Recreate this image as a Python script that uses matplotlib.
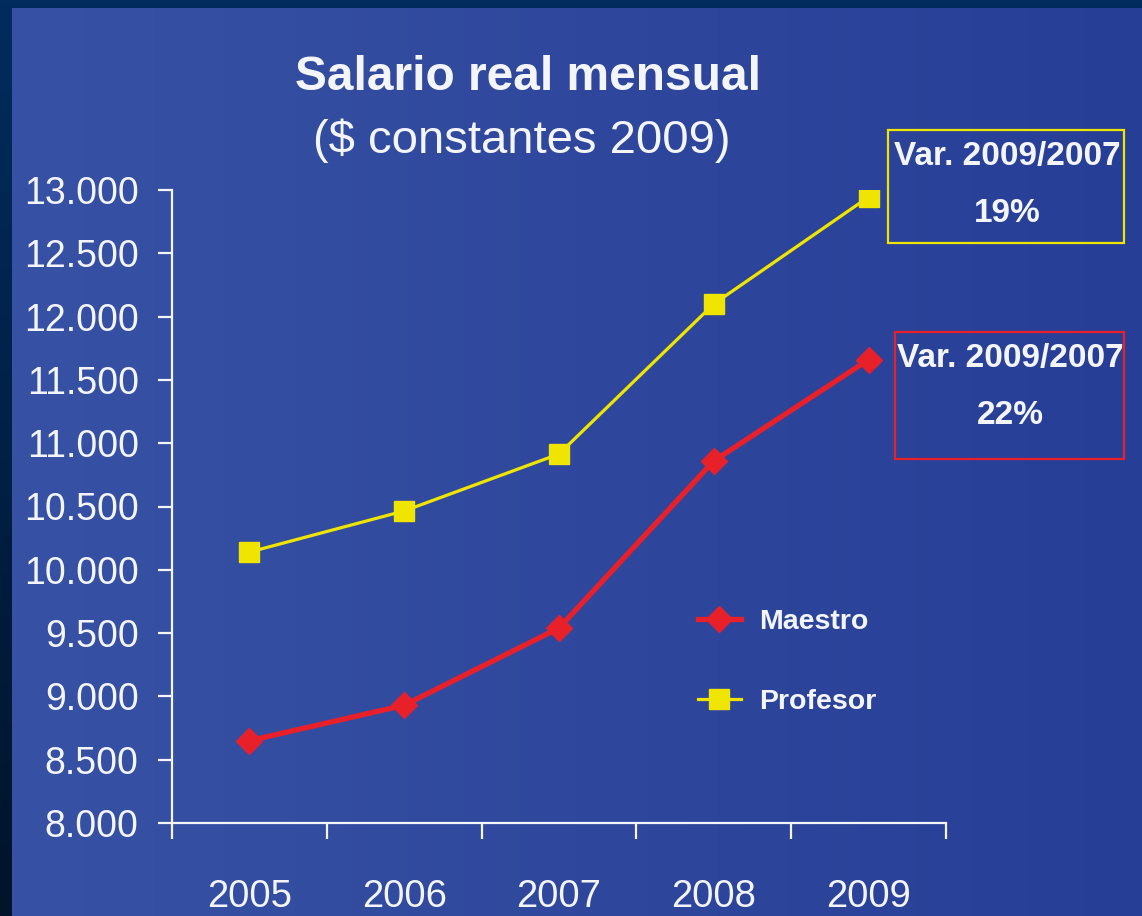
import numpy as np
import matplotlib
matplotlib.use("Agg")
import matplotlib.pyplot as plt
from matplotlib.lines import Line2D
from matplotlib.patches import Rectangle

# ---- data ----
years = ["2005", "2006", "2007", "2008", "2009"]
maestro = [8650, 8930, 9540, 10860, 11660]
profesor = [10140, 10465, 10915, 12100, 12945]
yticks = [8000, 8500, 9000, 9500, 10000, 10500, 11000, 11500, 12000, 12500, 13000]
series_names = ["Maestro", "Profesor"]
title = "Salario real mensual"
subtitle = "($ constantes 2009)"
box_labels = [("Var. 2009/2007", "19%"), ("Var. 2009/2007", "22%")]

W, H = 1142, 916
REG = ["Liberation Sans", "DejaVu Sans"]
WHITE = "#f4f5fb"
YELLOW = "#f0e500"
RED = "#e8202a"

fig = plt.figure(figsize=(W / 100, H / 100), dpi=100)
fig.patch.set_facecolor("#022c5e")

def fx(px):
    return px / W

def fy(py):
    return 1 - py / H

# background
bg = fig.add_axes([0, 0, 1, 1], zorder=0)
bg.axis("off")
vert = np.linspace(0, 1, 256).reshape(-1, 1)
c_top = np.array([2, 44, 94]) / 255
c_bot = np.array([0, 20, 42]) / 255
border = c_top + (c_bot - c_top) * vert[..., None]
border = np.repeat(border, 2, axis=1)
bg.imshow(border, extent=[0, W, H, 0], aspect="auto", interpolation="bilinear")
hor = np.linspace(0, 1, 512).reshape(1, -1)
c_l = np.array([55, 82, 164]) / 255
c_r = np.array([39, 62, 150]) / 255
inner = c_l + (c_r - c_l) * hor[..., None]
inner = np.repeat(inner, 2, axis=0)
bg.imshow(inner, extent=[12, W, H, 8], aspect="auto", interpolation="bilinear")
bg.set_xlim(0, W)
bg.set_ylim(H, 0)

# main axes
ax = fig.add_axes([fx(172), fy(823), (946 - 172) / W, (823 - 190) / H], zorder=2)
ax.set_facecolor("none")
x = np.arange(len(years))
ax.plot(x, profesor, color=YELLOW, lw=2.3, marker="s", ms=14, mec=YELLOW, mfc=YELLOW, zorder=3)
ax.plot(x, maestro, color=RED, lw=3.8, marker="D", ms=13, mec=RED, mfc=RED, zorder=3)
ax.set_xlim(-0.5, len(years) - 0.5)
ax.set_ylim(8000, 13000)

for s in ["top", "right"]:
    ax.spines[s].set_visible(False)
for s in ["left", "bottom"]:
    ax.spines[s].set_color(WHITE)
    ax.spines[s].set_linewidth(1.6)

ax.set_xticks(np.arange(-0.5, len(years), 1.0))
ax.set_xticklabels([])
ax.tick_params(axis="x", which="major", direction="out", length=11.5, width=1.6, color=WHITE)
ax.set_xticks(x, minor=True)
ax.set_xticklabels(years, minor=True, fontfamily=REG, fontsize=27.5, color=WHITE)
ax.tick_params(axis="x", which="minor", length=0, pad=40)

ax.set_yticks(yticks)
ax.set_yticklabels([f"{v:,}".replace(",", ".") for v in yticks], fontfamily=REG, fontsize=27, color=WHITE)
ax.tick_params(axis="y", direction="out", length=10, width=1.6, color=WHITE, pad=14)

# titles
fig.text(fx(528), fy(78), title, ha="center", va="center", fontsize=34.5, fontweight="bold",
         color=WHITE, fontfamily=REG)
fig.text(fx(522), fy(141), subtitle, ha="center", va="center", fontsize=34,
         color=WHITE, fontfamily=REG)

# legend
handles = [Line2D([], [], color=RED, lw=3.8, marker="D", ms=13),
           Line2D([], [], color=YELLOW, lw=2.3, marker="s", ms=14)]
leg = fig.legend(handles, series_names, loc="upper left", bbox_to_anchor=(fx(698), fy(609)),
                 frameon=False, borderpad=0, borderaxespad=0, handlelength=1.5,
                 handletextpad=0.65, labelspacing=1.9,
                 prop={"family": REG, "weight": "bold", "size": 20.5})
for t in leg.get_texts():
    t.set_color(WHITE)

# variation boxes
boxes = [((888, 130, 1124, 243), YELLOW), ((895, 332, 1124, 459), RED)]
for (x0, y0, x1, y1), col in boxes:
    fig.patches.append(Rectangle((fx(x0), fy(y1)), fx(x1 - x0), (y1 - y0) / H,
                                 transform=fig.transFigure, fill=False, ec=col, lw=1.6, zorder=3))
for ((x0, y0, x1, y1), col), (l1, l2) in zip(boxes, box_labels):
    cx = (x0 + x1) / 2 + 1
    fig.text(fx(cx), fy(y0 + 26), l1, ha="center", va="center", fontsize=24,
             fontweight="bold", color=WHITE, fontfamily=REG, zorder=4)
    fig.text(fx(cx), fy(y0 + 83), l2, ha="center", va="center", fontsize=24,
             fontweight="bold", color=WHITE, fontfamily=REG, zorder=4)

fig.savefig("out.png", dpi=100, facecolor=fig.get_facecolor())
